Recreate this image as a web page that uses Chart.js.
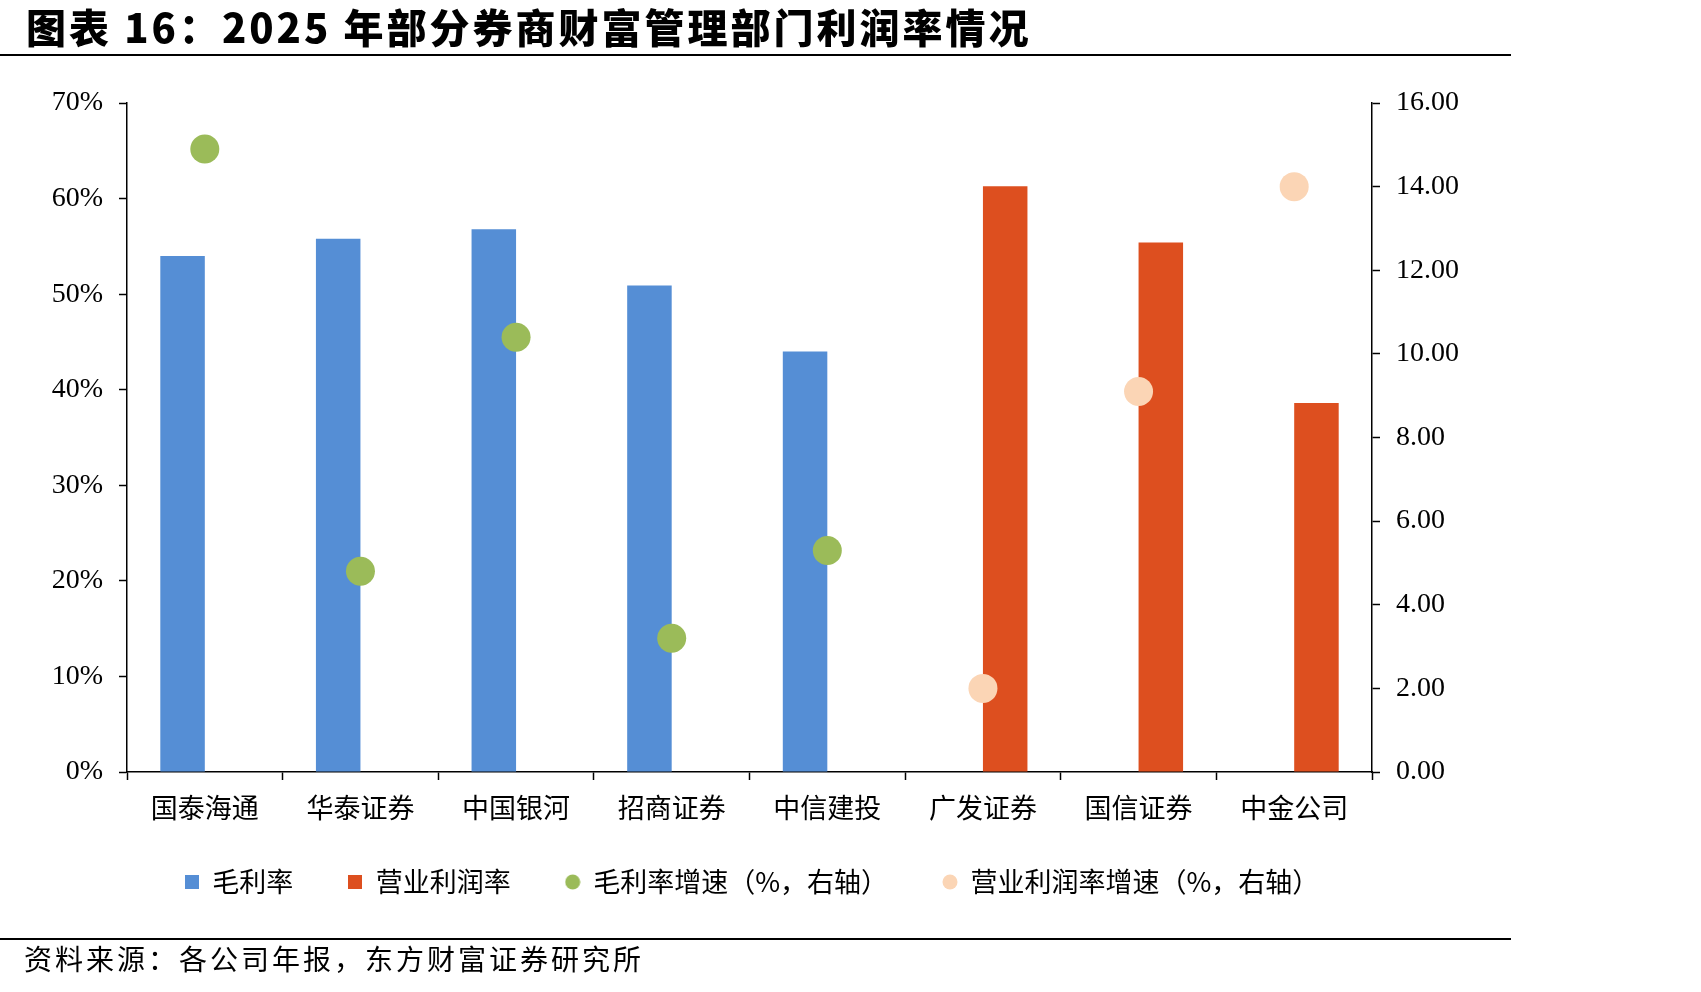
<!DOCTYPE html>
<html lang="zh-CN">
<head>
    <meta charset="UTF-8">
    <title>2025年部分券商财富管理部门利润率情况</title>
    <script src="https://cdn.jsdelivr.net/npm/chart.js"></script>
    <style>
        html, body { margin: 0; padding: 0; background: #fff; }
        #page { position: relative; width: 1701px; height: 992px; overflow: hidden; }
        #chart-title {
            position: absolute; left: 26px; top: 6px; margin: 0;
            font: 900 40px/40px "Noto Sans CJK SC"; letter-spacing: 3px;
            color: #000; white-space: nowrap;
        }
        .rule { position: absolute; left: 0; width: 1511px; height: 2px; background: #000; }
        #source {
            position: absolute; left: 24px; top: 943px;
            font: 28px/30px "Noto Sans CJK SC"; letter-spacing: 3px; color: #000; white-space: nowrap;
        }
        canvas#profit-chart { position: absolute; left: 0; top: 0; }
    </style>
</head>
<body>
<div id="page">
    <canvas id="profit-chart" width="1701" height="992"></canvas>
    <h1 id="chart-title">图表 16：2025 年部分券商财富管理部门利润率情况</h1>
    <div class="rule" style="top:54px"></div>
    <div class="rule" style="top:938px"></div>
    <div id="source">资料来源：各公司年报，东方财富证券研究所</div>
</div>

<script>
    // 数据
    const brokers = ['国泰海通', '华泰证券', '中国银河', '招商证券', '中信建投', '广发证券', '国信证券', '中金公司'];
    const grossMargin = [54.0, 55.8, 56.8, 50.9, 44.0, null, null, null];        // 毛利率 (%)
    const operatingMargin = [null, null, null, null, null, 61.3, 55.4, 38.6];    // 营业利润率 (%)
    const grossGrowth = [14.9, 4.8, 10.4, 3.2, 5.3, null, null, null];           // 毛利率增速 (右轴)
    const operatingGrowth = [null, null, null, null, null, 2.0, 9.1, 14.0];      // 营业利润率增速 (右轴)
    const leftTicks = [0, 10, 20, 30, 40, 50, 60, 70];
    const rightTicks = [0, 2, 4, 6, 8, 10, 12, 14, 16];

    const BLUE = '#558ED5', RED = '#DD4F1F', GREEN = '#9BBB59', PEACH = '#FBD5B5';
    const numFont = { family: '"Liberation Serif", "Times New Roman", serif', size: 28 };
    const cjkFont = { family: '"Noto Sans CJK SC", sans-serif', size: 27 };

    // 图例小标记
    function marker(color, round) {
        const c = document.createElement('canvas');
        c.width = round ? 16 : 14;
        c.height = round ? 16 : 14;
        const g = c.getContext('2d');
        g.fillStyle = color;
        if (round) {
            g.beginPath();
            g.arc(8, 8, 7.5, 0, Math.PI * 2);
            g.fill();
        } else {
            g.fillRect(0, 0, 14, 14);
        }
        return c;
    }
    const markers = [marker(BLUE), marker(RED), marker(GREEN, true), marker(PEACH, true)];

    // 图例整体上移，x 轴标签区域留够高度
    const legendShift = {
        id: 'legendShift',
        afterLayout(chart) {
            chart.legend.top -= 11;
            chart.legend.bottom -= 11;
        }
    };

    const dotDataset = (label, data, color) => ({
        type: 'line',
        label: label,
        data: data,
        yAxisID: 'y2',
        showLine: false,
        order: 0,
        pointRadius: 14.5,
        pointHoverRadius: 14.5,
        pointBorderWidth: 0,
        pointBackgroundColor: color,
        backgroundColor: color,
        borderColor: color
    });

    new Chart(document.getElementById('profit-chart'), {
        type: 'bar',
        data: {
            labels: brokers,
            datasets: [
                { label: '毛利率', data: grossMargin, backgroundColor: BLUE, yAxisID: 'y', order: 1,
                  categoryPercentage: 0.572, barPercentage: 1 },
                { label: '营业利润率', data: operatingMargin, backgroundColor: RED, yAxisID: 'y', order: 1,
                  categoryPercentage: 0.572, barPercentage: 1 },
                dotDataset('毛利率增速（%，右轴）', grossGrowth, GREEN),
                dotDataset('营业利润率增速（%，右轴）', operatingGrowth, PEACH)
            ]
        },
        plugins: [legendShift],
        options: {
            responsive: false,
            animation: false,
            layout: { padding: { top: 103, left: 0, right: 197, bottom: 75.5 } },
            plugins: {
                tooltip: { enabled: false },
                legend: {
                    position: 'bottom',
                    labels: {
                        usePointStyle: true,
                        boxWidth: 14,
                        boxHeight: 14,
                        padding: 55,
                        color: '#000',
                        font: cjkFont,
                        sort: (a, b) => a.datasetIndex - b.datasetIndex,
                        generateLabels(chart) {
                            const items = Chart.defaults.plugins.legend.labels.generateLabels(chart);
                            items.forEach(it => { it.pointStyle = markers[it.datasetIndex]; });
                            return items;
                        }
                    }
                }
            },
            scales: {
                x: {
                    afterFit: s => { s.height = 52.5; },
                    border: { color: '#000', width: 1.5 },
                    grid: { drawOnChartArea: false, tickLength: 8, tickColor: '#000', tickWidth: 1.5 },
                    ticks: { color: '#000', font: cjkFont, padding: 12, maxRotation: 0 }
                },
                y: {
                    position: 'left',
                    min: 0, max: 70,
                    afterFit: s => { s.width = 127; },
                    afterBuildTicks: s => { s.ticks = leftTicks.map(v => ({ value: v })); },
                    border: { color: '#000', width: 1.5 },
                    grid: { drawOnChartArea: false, tickLength: 8, tickColor: '#000', tickWidth: 1.5 },
                    ticks: { color: '#000', font: numFont, padding: 16, callback: v => v + '%' }
                },
                y2: {
                    position: 'right',
                    min: 0, max: 16,
                    afterFit: s => { s.width = 132; },
                    afterBuildTicks: s => { s.ticks = rightTicks.map(v => ({ value: v })); },
                    border: { color: '#000', width: 1.5 },
                    grid: { drawOnChartArea: false, tickLength: 8, tickColor: '#000', tickWidth: 1.5 },
                    ticks: { color: '#000', font: numFont, padding: 16, callback: v => v.toFixed(2) }
                }
            }
        }
    });
</script>
</body>
</html>
